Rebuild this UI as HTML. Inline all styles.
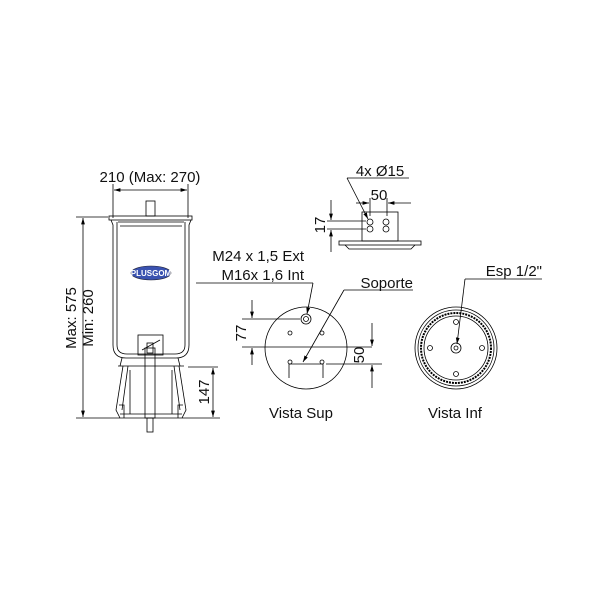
<!DOCTYPE html><html><head><style>body{margin:0;background:#fff}svg{display:block}text{font-family:"Liberation Sans",sans-serif;fill:#111}</style></head><body>
<svg width="600" height="600" viewBox="0 0 600 600" xmlns="http://www.w3.org/2000/svg">
<defs><marker id="a" viewBox="0 0 10 6" refX="10" refY="3" markerWidth="8" markerHeight="5" orient="auto-start-reverse"><path d="M0,0L10,3L0,6z" fill="#000"/></marker></defs>
<g stroke="#000" stroke-width="0.8" fill="none">
<!-- left assembly -->
<line x1="113" y1="184" x2="113" y2="218"/><line x1="188" y1="184" x2="188" y2="218"/>
<line x1="114" y1="190" x2="187" y2="190" marker-start="url(#a)" marker-end="url(#a)"/>
<rect x="146" y="201" width="9" height="15"/>
<rect x="109" y="216" width="83" height="4"/>
<path d="M111,220 L113,225 L113,345 Q113,358 126,358 L176,358 Q189,358 189,345 L189,225 L191,220"/>
<path d="M117,222 L117,345 Q117,354 127,354 L175,354 Q185,354 185,345 L185,222"/>
<path d="M118,222 L184,222 M120,226 L182,226"/>
<rect x="138" y="335" width="25" height="20"/>
<path d="M142,350 L160,340"/>
<path d="M122,358 L120,366 L180,366 L178,358 M118,366 L184,366"/>
<path d="M123,366 L116,410 L120,418 M179,366 L186,410 L182,418"/>
<path d="M128,366 L122,410 M174,366 L180,410"/>
<line x1="130" y1="370" x2="130" y2="414"/><line x1="172" y1="370" x2="172" y2="414"/>
<rect x="145" y="348" width="10" height="70"/>
<rect x="147" y="343" width="6" height="10"/>
<path d="M119,405 L124,405 L124,418 M183,405 L178,405 L178,418"/>
<line x1="120" y1="414" x2="182" y2="414"/>
<rect x="147" y="418" width="6" height="14"/>
<line x1="76" y1="217" x2="108" y2="217"/><line x1="76" y1="418" x2="220" y2="418"/>
<line x1="83" y1="218" x2="83" y2="417" marker-start="url(#a)" marker-end="url(#a)"/>
<line x1="188" y1="367" x2="218" y2="367"/>
<line x1="213" y1="368" x2="213" y2="417" marker-start="url(#a)" marker-end="url(#a)"/>
<!-- top bracket view -->
<rect x="362" y="212" width="36" height="29"/>
<rect x="339" y="241" width="82" height="4"/>
<path d="M345,245 L349,249 L411,249 L415,245"/>
<circle cx="370" cy="222" r="3"/><circle cx="370" cy="229" r="3"/>
<circle cx="386" cy="222" r="3"/><circle cx="386" cy="229" r="3"/>
<line x1="347" y1="178" x2="409" y2="178"/><line x1="347" y1="178" x2="368" y2="219" marker-end="url(#a)"/>
<line x1="370" y1="198" x2="370" y2="216"/><line x1="387" y1="198" x2="387" y2="216"/>
<line x1="356" y1="203" x2="369" y2="203" marker-end="url(#a)"/><line x1="411" y1="203" x2="388" y2="203" marker-end="url(#a)"/>
<line x1="327" y1="221" x2="366" y2="221"/><line x1="327" y1="229" x2="366" y2="229"/>
<line x1="331" y1="200" x2="331" y2="220" marker-end="url(#a)"/><line x1="331" y1="252" x2="331" y2="230" marker-end="url(#a)"/>
<!-- Vista Sup -->
<circle cx="306" cy="348" r="41"/>
<circle cx="306" cy="319" r="5"/><circle cx="306" cy="319" r="2.5"/>
<circle cx="290" cy="333" r="2"/><circle cx="322" cy="333" r="2"/>
<circle cx="290" cy="362" r="2"/><circle cx="322" cy="362" r="2"/>
<path d="M289,378 L289,364 L323,364 L323,378"/>
<line x1="196" y1="283" x2="313" y2="283"/><line x1="313" y1="283" x2="307" y2="314" marker-end="url(#a)"/>
<line x1="344" y1="290" x2="413" y2="290"/><line x1="344" y1="290" x2="303" y2="362" marker-end="url(#a)"/>
<line x1="242" y1="319" x2="300" y2="319"/><line x1="242" y1="347" x2="372" y2="347"/>
<line x1="252" y1="300" x2="252" y2="318" marker-end="url(#a)"/><line x1="252" y1="365" x2="252" y2="348" marker-end="url(#a)"/>
<line x1="326" y1="364" x2="382" y2="364"/>
<line x1="372" y1="323" x2="372" y2="346" marker-end="url(#a)"/><line x1="372" y1="388" x2="372" y2="365" marker-end="url(#a)"/>
<!-- Vista Inf -->
<circle cx="456" cy="348" r="41"/>
<circle cx="456" cy="348" r="38"/>
<circle cx="456" cy="348" r="35" stroke-width="2" stroke-dasharray="2,1"/>
<circle cx="456" cy="348" r="32"/>
<circle cx="456" cy="348" r="5"/><circle cx="456" cy="348" r="2"/>
<circle cx="456" cy="322" r="2.5"/><circle cx="456" cy="374" r="2.5"/>
<circle cx="430" cy="348" r="2.5"/><circle cx="482" cy="348" r="2.5"/>
<line x1="465" y1="279" x2="542" y2="279"/><line x1="465" y1="279" x2="457" y2="344" marker-end="url(#a)"/>
</g>
<ellipse cx="151" cy="273" rx="20" ry="7" fill="#3a52b0" stroke="#223" stroke-width="0.6"/>
<text x="151" y="276" font-size="8" text-anchor="middle" style="fill:#fff;font-weight:bold">PLUSGOM</text>
<text x="150" y="182" font-size="15" text-anchor="middle">210 (Max: 270)</text>
<text transform="translate(76,318) rotate(-90)" font-size="15" text-anchor="middle">Max: 575</text>
<text transform="translate(93,318) rotate(-90)" font-size="15" text-anchor="middle">Min: 260</text>
<text transform="translate(209,392) rotate(-90)" font-size="15" text-anchor="middle">147</text>
<text x="380" y="176" font-size="15" text-anchor="middle">4x Ø15</text>
<text x="379" y="200" font-size="15" text-anchor="middle">50</text>
<text transform="translate(325,225) rotate(-90)" font-size="15" text-anchor="middle">17</text>
<text x="304" y="261" font-size="15" text-anchor="end">M24 x 1,5 Ext</text>
<text x="304" y="280" font-size="15" text-anchor="end">M16x 1,6 Int</text>
<text x="413" y="288" font-size="15" text-anchor="end">Soporte</text>
<text transform="translate(246,333) rotate(-90)" font-size="15" text-anchor="middle">77</text>
<text transform="translate(364,355) rotate(-90)" font-size="15" text-anchor="middle">50</text>
<text x="301" y="418" font-size="15" text-anchor="middle">Vista Sup</text>
<text x="455" y="418" font-size="15" text-anchor="middle">Vista Inf</text>
<text x="542" y="276" font-size="15" text-anchor="end">Esp 1/2"</text>
</svg></body></html>
